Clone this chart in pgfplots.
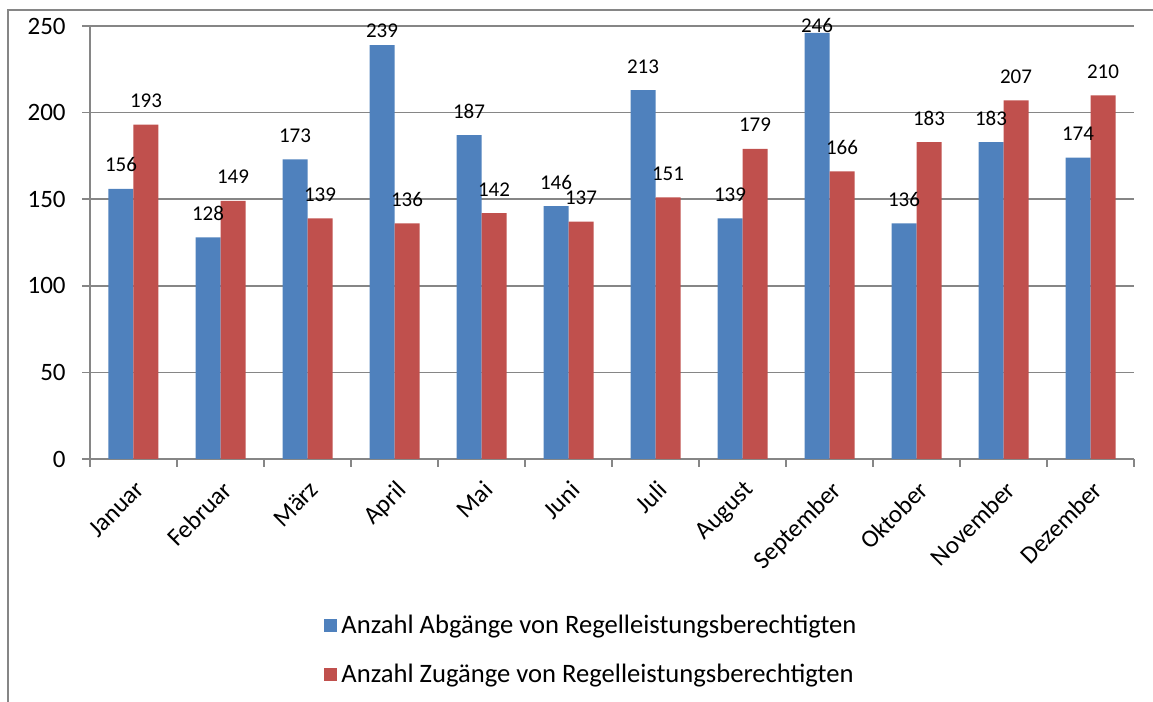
\documentclass[border=0pt]{standalone}
\usepackage{fontspec}
\setmainfont{Carlito}
\usepackage{pgfplots}
\pgfplotsset{compat=1.18}
\usepackage{pgfplotstable}

\definecolor{abg}{HTML}{4F81BD}
\definecolor{zug}{HTML}{C0504D}
\definecolor{rahmen}{HTML}{868686}

% m = Monat, a/z = Abgaenge/Zugaenge, ga/gz = Abstand der Beschriftung (pt)
\pgfplotstableread{
m a  ga  z   gz
0 156 8.5 193 8.5
1 128 8.5 149 8.5
2 173 8.5 139 8.5
3 239 4   136 8.5
4 187 8.5 142 8.5
5 146 8.5 137 8.5
6 213 8.5 151 8.5
7 139 8.5 179 8.5
8 246 0   166 8.5
9 136 8.5 183 8.5
10 183 8.5 207 8.5
11 174 8.5 210 8.5
}\monate

\begin{document}
\begin{tikzpicture}
\path[use as bounding box] (0,0) rectangle (576.5pt,351pt);
\draw[rahmen, line width=0.75pt] (4pt,0pt) -- (4pt,346pt) -- (577pt,346pt);
\begin{axis}[
    at={(45pt,121.5pt)}, anchor=south west,
    scale only axis, width=522pt, height=216.5pt,
    ybar=0pt, bar width=12.5pt,
    xmin=-0.5, xmax=11.5, ymin=0, ymax=250,
    ytick={0,50,...,250},
    yticklabel={\fontsize{12.5}{15}\selectfont\pgfmathprintnumber{\tick}},
    xtick={0,...,11},
    xticklabels={Januar,Februar,März,April,Mai,Juni,Juli,August,September,Oktober,November,Dezember},
    minor xtick={-0.5,0.5,...,11.5},
    every major x tick/.append style={draw=none},
    axis x line*=bottom, axis y line*=left,
    axis line style={rahmen, line width=0.75pt, -},
    tick align=outside, major tick length=4pt, minor tick length=4pt,
    tick style={rahmen, line width=0.75pt},
    ymajorgrids, grid style={rahmen, line width=0.75pt},
    /pgf/number format/assume math mode=true,
    yticklabel style={anchor=east, inner sep=0pt, xshift=-8pt},
    xticklabel style={font=\fontsize{12.5}{15}\selectfont, rotate=45, anchor=north east,
        inner sep=0pt, xshift=-4pt, yshift=-4.5pt},
    legend style={draw=none, fill=none, at={(0.2184,-0.34)}, anchor=north west,
        font=\fontsize{13.3}{16}\selectfont, row sep=10pt},
    legend cell align=left,
    legend image code/.code={\fill[#1] (-2.5pt,-3.25pt) rectangle (4pt,3.25pt);},
]
\addplot[fill=abg, draw=none, nodes near coords,
    visualization depends on={\thisrow{ga}\as\gap},
    every node near coord/.append style={font=\fontsize{10.5}{12}\selectfont, text=black,
        anchor=base, inner sep=0pt, yshift=\gap pt}]
    table[x=m, y=a] {\monate};
\addlegendentry{Anzahl Abgänge von Regelleistungsberechtigten}
\addplot[fill=zug, draw=none, nodes near coords,
    visualization depends on={\thisrow{gz}\as\gap},
    every node near coord/.append style={font=\fontsize{10.5}{12}\selectfont, text=black,
        anchor=base, inner sep=0pt, yshift=\gap pt}]
    table[x=m, y=z] {\monate};
\addlegendentry{Anzahl Zugänge von Regelleistungsberechtigten}
\end{axis}
\end{tikzpicture}
\end{document}
